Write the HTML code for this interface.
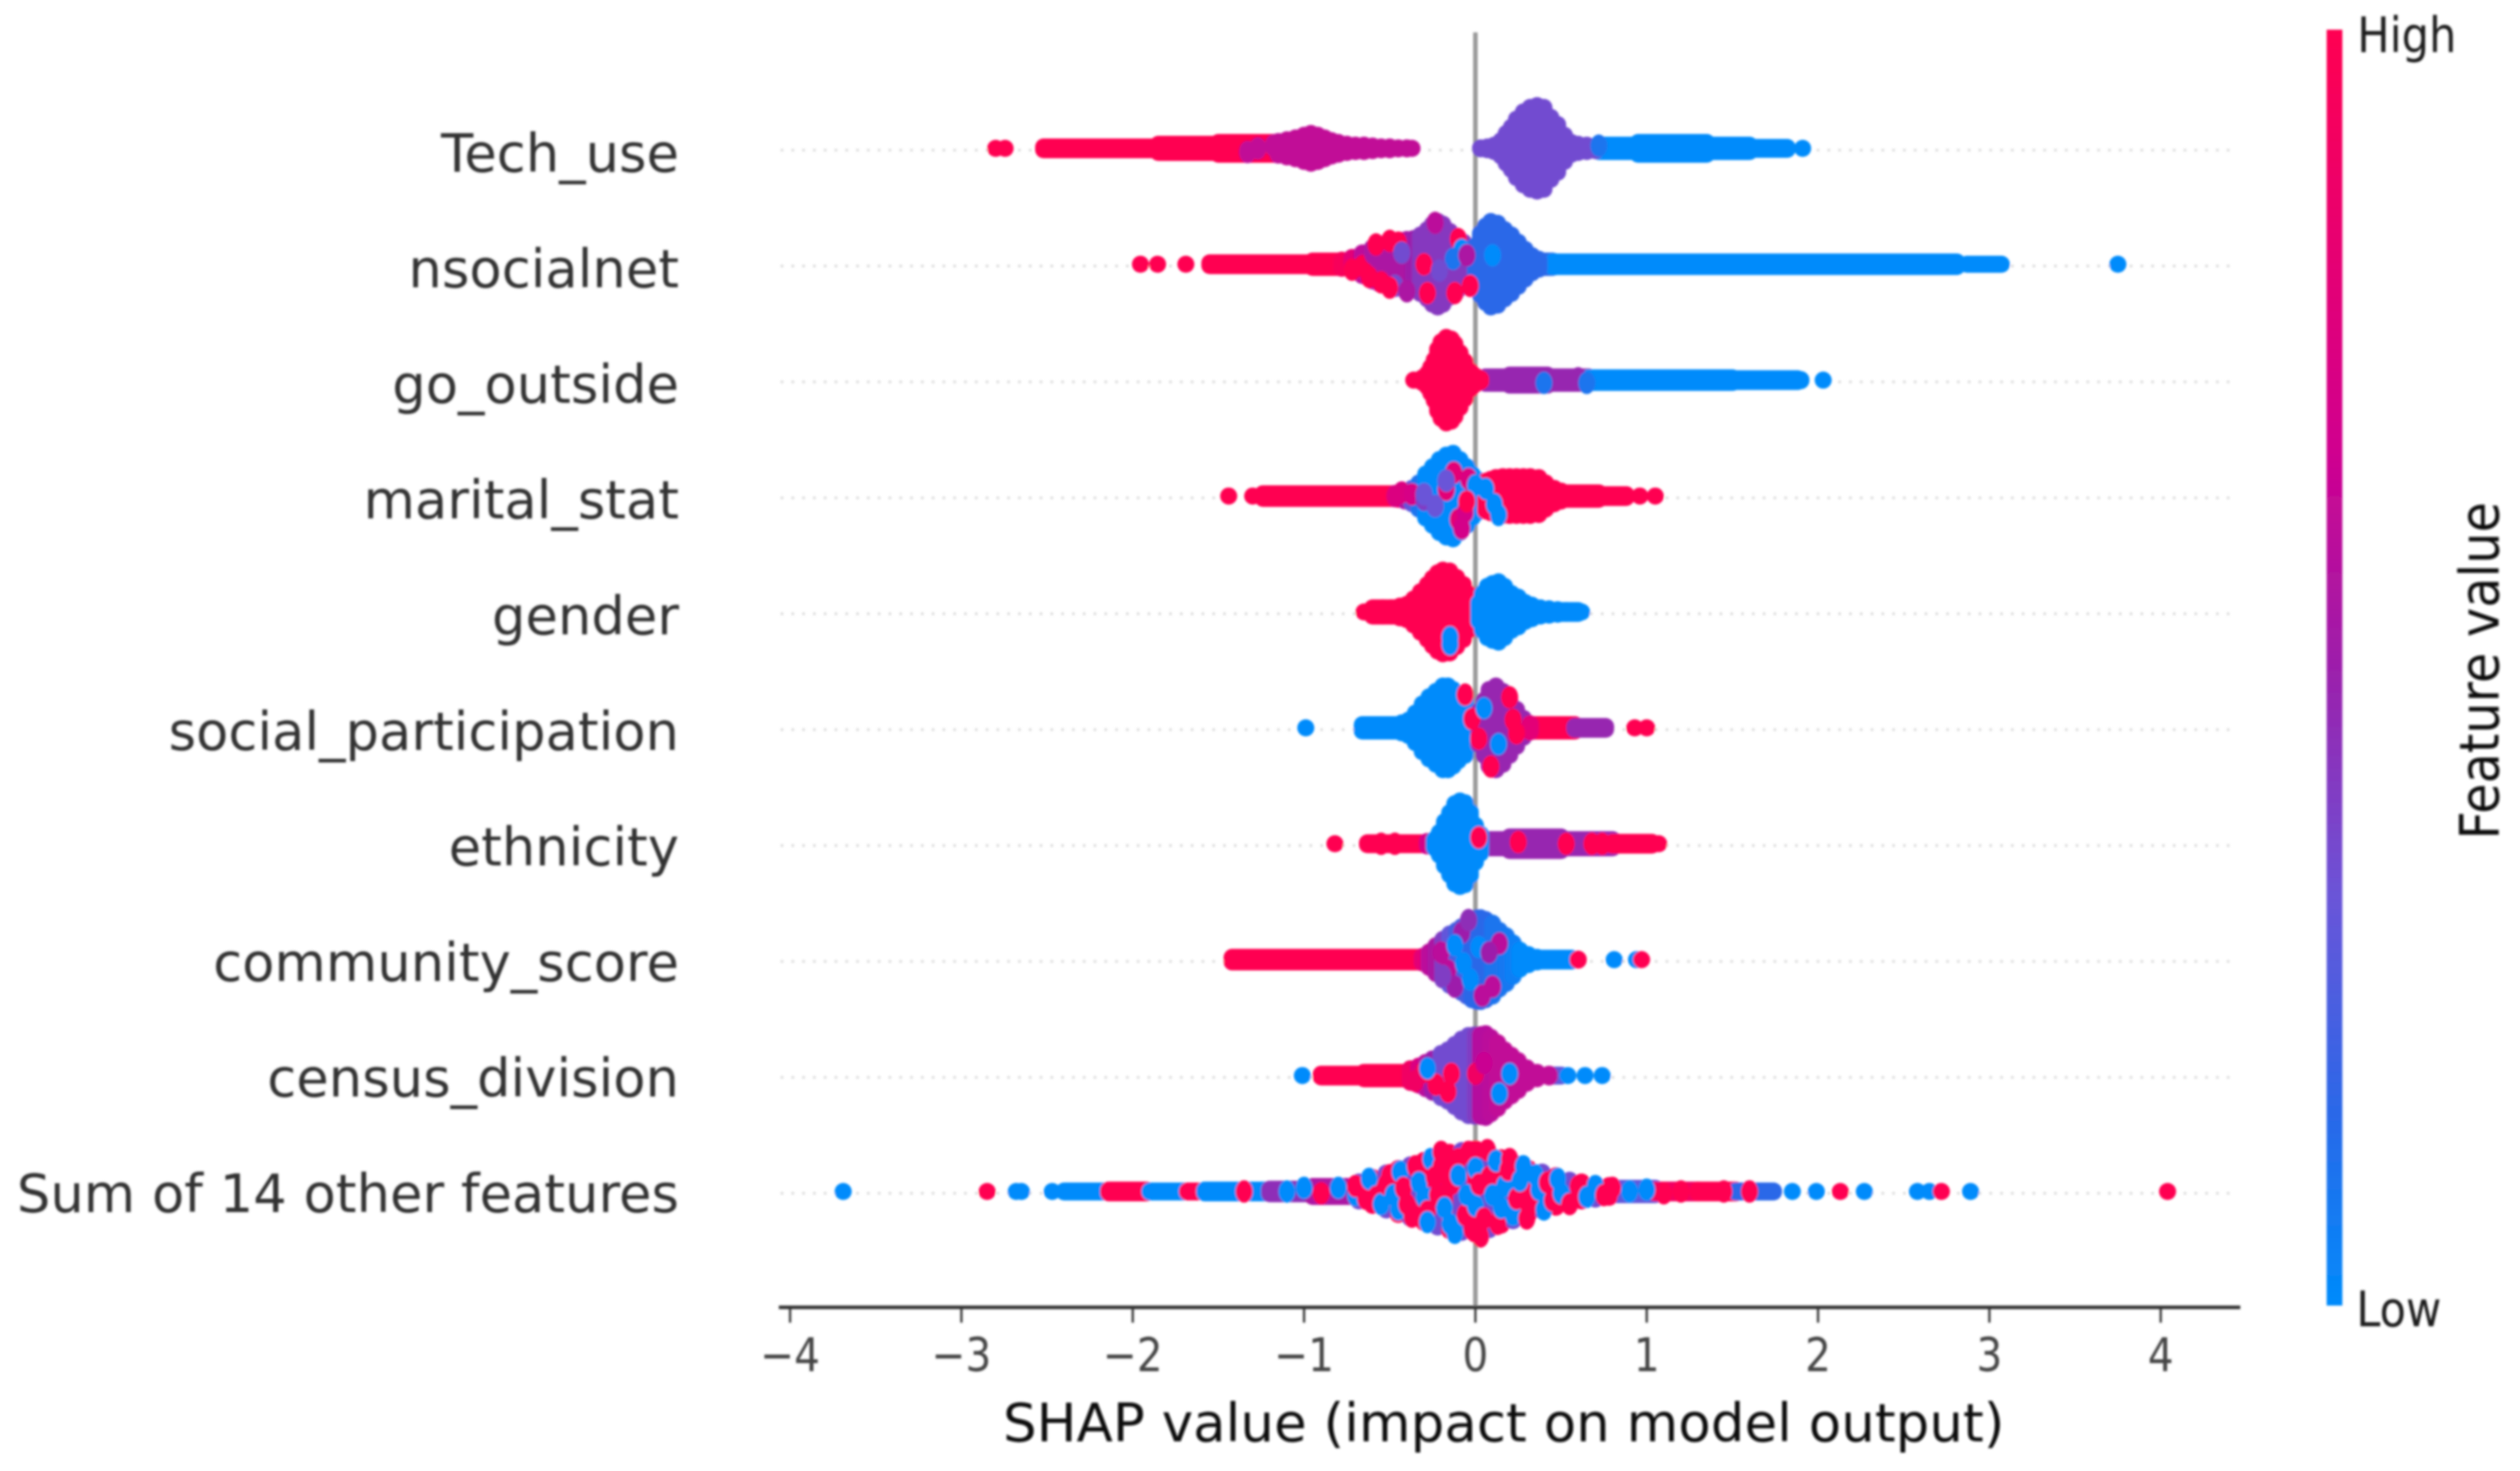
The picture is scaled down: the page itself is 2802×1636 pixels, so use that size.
<!DOCTYPE html>
<html lang="en">
<head>
<meta charset="utf-8">
<title>SHAP beeswarm summary</title>
<style>
html,body{margin:0;padding:0;background:#fff;width:2802px;height:1636px;overflow:hidden}
svg{display:block}
text{font-family:"DejaVu Sans","Liberation Sans",sans-serif}
</style>
</head>
<body>
<svg id="chart" xmlns="http://www.w3.org/2000/svg" width="2802" height="1636" viewBox="0 0 2802 1636">
  <defs>
    <filter id="soft" x="-2%" y="-2%" width="104%" height="104%"><feGaussianBlur stdDeviation="1.2"/></filter>
    <linearGradient id="barGradient" x1="0" y1="1" x2="0" y2="0">
      <stop offset="0" stop-color="#008bfb"/>
      <stop offset="0.15" stop-color="#2a68e8"/>
      <stop offset="0.32" stop-color="#6a55d8"/>
      <stop offset="0.495" stop-color="#9b20ac"/>
      <stop offset="0.67" stop-color="#d0008f"/>
      <stop offset="1" stop-color="#ff0051"/>
    </linearGradient>
  </defs>
  <g id="plot" filter="url(#soft)"></g>
</svg>
<script>
const featureNames = ["Tech_use","nsocialnet","go_outside","marital_stat","gender","social_participation","ethnicity","community_score","census_division","Sum of 14 other features"];
const xTicks = [-4,-3,-2,-1,0,1,2,3,4];
const xTickLabels = ["\u22124","\u22123","\u22122","\u22121","0","1","2","3","4"];

/* Each swarm:
   Shap/Depth/Value = SHAP value of a bin, stacked half-depth of the bin, mean feature value (0 low .. 1 high)
   TailFrom/TailTo/TailDepth/TailValue = dense runs of overlapping points along the row
   SpeckShap/SpeckDepth/SpeckValue = individually visible points */
const techUseShap  = [-2.80,-2.745,-1.15,-1.1,-1.05,-1.0,-0.96,-0.92,-0.88,-0.84,-0.8,-0.75,-0.7,-0.65,-0.6,-0.55,-0.5,-0.45,-0.4,-0.37,0.03,0.07,0.11,0.15,0.18,0.21,0.24,0.28,0.32,0.36,0.40,0.44,0.48,0.52,0.56,0.60,0.65,0.7,1.82,1.91];
const techUseDepth = [9.5,9.5,17,19,21,24,26,24,21,18,16,14,13,13,12,11,11,10,10,9.5,10,11,13,18,26,33,42,50,55,57,55,44,36,24,16,14,13,12,9.5,9.5];
const techUseValue = [1,1,0.62,0.62,0.62,0.62,0.62,0.62,0.62,0.62,0.62,0.62,0.62,0.62,0.62,0.62,0.62,0.62,0.62,0.62,0.35,0.35,0.35,0.35,0.35,0.35,0.35,0.35,0.35,0.35,0.35,0.35,0.35,0.35,0.35,0.35,0.35,0.35,0,0];
const techUseTailFrom  = [-2.52,-1.85,-1.5,0.72,0.95,1.35,1.6];
const techUseTailTo    = [-1.8,-1.5,-1.17,0.95,1.35,1.6,1.82];
const techUseTailDepth = [11,14,16,13,16,13,10.5];
const techUseTailValue = [1,1,1,0,0,0,0];
const techUseSpeckShap  = [-1.27,-1.33,-1.18,0.72];
const techUseSpeckDepth = [0,4,-3,-3];
const techUseSpeckValue = [0.62,0.62,0.62,0.1];

const nsocialnetShap  = [-1.955,-1.855,-1.69,-0.78,-0.72,-0.66,-0.6,-0.56,-0.52,-0.48,-0.44,-0.4,-0.36,-0.32,-0.28,-0.25,-0.22,-0.19,-0.15,-0.11,-0.07,-0.03,0.0,0.03,0.06,0.09,0.13,0.17,0.21,0.25,0.29,0.33,0.37,3.75];
const nsocialnetDepth = [9.5,9.5,9.5,14,17,22,28,31,33,35,36,37,38,42,48,54,57,54,46,40,34,24,30,44,52,57,55,48,42,34,26,19,15,9.5];
const nsocialnetValue = [1,1,1,0.95,0.8,0.6,0.55,0.55,0.55,0.55,0.55,0.55,0.5,0.42,0.42,0.42,0.42,0.42,0.42,0.42,0.42,0.42,0.15,0.15,0.15,0.15,0.15,0.15,0.15,0.15,0.15,0.15,0.15,0];
const nsocialnetTailFrom  = [-1.55,-0.95,0.36,0.45,2.87];
const nsocialnetTailTo    = [-0.95,-0.76,0.45,2.81,3.07];
const nsocialnetTailDepth = [11,13,13,12,9.5];
const nsocialnetTailValue = [1,1,0.15,0,0];
const nsocialnetSpeckShap  = [-0.72,-0.66,-0.62,-0.5,-0.45,-0.55,-0.3,-0.28,-0.1,-0.08,-0.13,-0.12,-0.43,-0.47,-0.21,-0.235,-0.6,-0.58,-0.5,-0.4,-0.05,-0.03,0.1];
const nsocialnetSpeckDepth = [6,2,14,-26,-24,20,0,32,-28,-16,-6,32,-13,24,7,-46,-12,-22,26,30,-10,24,-10];
const nsocialnetSpeckValue = [1,1,1,1,1,1,1,1,1,0,0.1,1,0.35,0.35,0.35,0.6,0.55,1,1,0.55,0.55,1,0];

const goOutsideShap  = [-0.36,-0.31,-0.28,-0.26,-0.24,-0.22,-0.2,-0.17,-0.14,-0.12,-0.09,-0.06,-0.03,0.0,0.03,1.9,2.03];
const goOutsideDepth = [9.5,12,17,24,32,44,52,57,55,50,40,30,20,14,11,10,9.5];
const goOutsideValue = [1,1,1,1,1,1,1,1,1,1,1,1,1,1,1,0,0];
const goOutsideTailFrom  = [0.06,0.2,0.42,0.66,1.5];
const goOutsideTailTo    = [0.2,0.42,0.66,1.5,1.88];
const goOutsideTailDepth = [13,15,13,12,11];
const goOutsideTailValue = [0.48,0.48,0.48,0,0];
const goOutsideSpeckShap  = [0.4,0.6,0.65];
const goOutsideSpeckDepth = [3,-2,3];
const goOutsideSpeckValue = [0.1,0.48,0.1];

const maritalShap  = [-1.44,-1.3,-0.45,-0.41,-0.37,-0.33,-0.29,-0.25,-0.21,-0.17,-0.13,-0.09,-0.05,-0.02,0.01,0.06,0.09,0.12,0.16,0.2,0.24,0.28,0.32,0.37,0.41,0.46,0.5,0.96,1.05];
const maritalDepth = [9.5,9.5,13,15,18,24,34,42,50,55,57,50,42,34,28,26,28,30,31,31,31,31,31,30,24,18,15,9.5,9.5];
const maritalValue = [1,1,1,0.55,0.3,0.1,0,0,0,0,0,0,0,0,0,1,1,1,1,1,1,1,1,1,1,1,1,1,1];
const maritalTailFrom  = [-1.24,0.5,0.72];
const maritalTailTo    = [-0.48,0.72,0.88];
const maritalTailDepth = [12,13,11];
const maritalTailValue = [1,1,1];
const maritalSpeckShap  = [-0.47,-0.43,-0.37,-0.3,-0.17,-0.126,-0.04,-0.17,-0.1,-0.06,-0.17,-0.235,-0.3,0.0,0.06,0.11,0.135,-0.08,-0.05];
const maritalSpeckDepth = [0,-4,-2,4,-17,-26,-19,-7,26,18,-17,11,-2,-12,-8,9,21,36,6];
const maritalSpeckValue = [0.75,0.75,0.72,0.4,0.32,0.8,0.75,0.8,0.8,0.7,0.32,0.32,0.32,0,0,0,0,0.7,1];

const genderShap  = [-0.65,-0.59,-0.54,-0.49,-0.44,-0.4,-0.36,-0.32,-0.28,-0.25,-0.22,-0.19,-0.15,-0.11,-0.07,-0.04,-0.01,0.02,0.04,0.07,0.1,0.135,0.17,0.21,0.25,0.29,0.33,0.38,0.43,0.48,0.53,0.57,0.62];
const genderDepth = [9.5,12,14,14,16,18,24,32,40,47,53,56,55,48,40,30,14,20,30,38,41,43,38,30,26,20,17,14,13,12,11,10,9.5];
const genderValue = [1,1,1,1,1,1,1,1,1,1,1,1,1,1,1,1,1,0,0,0,0,0,0,0,0,0,0,0,0,0,0,0,0];
const genderTailFrom  = [-0.6,0.33];
const genderTailTo    = [-0.4,0.6];
const genderTailDepth = [14,11];
const genderTailValue = [1,0];
const genderSpeckShap  = [-0.148,-0.148];
const genderSpeckDepth = [28,36];
const genderSpeckValue = [0,0];

const socialShap  = [-0.99,-0.66,-0.43,-0.39,-0.35,-0.31,-0.27,-0.23,-0.19,-0.16,-0.13,-0.1,-0.06,-0.03,0.02,0.05,0.08,0.12,0.16,0.2,0.24,0.28,0.32,0.93,1.0];
const socialDepth = [9.5,10,15,18,26,36,44,50,56,56,52,46,40,28,28,40,52,56,50,40,30,20,14,9.5,9.5];
const socialValue = [0,0,0,0,0,0,0,0,0,0,0,0,0,0,0.48,0.48,0.48,0.48,0.48,0.48,0.48,0.48,0.8,1,1];
const socialTailFrom  = [-0.66,0.33,0.58];
const socialTailTo    = [-0.43,0.58,0.76];
const socialTailDepth = [13,13,11];
const socialTailValue = [0,1,0.48];
const socialSpeckShap  = [0.2,0.22,-0.02,0.09,-0.06,0.05,0.135,0.02,0.24];
const socialSpeckDepth = [-34,-9,-10,43,-37,-22,18,12,6];
const socialSpeckValue = [1,1,1,1,1,0,0,1,1];

const ethnicityShap  = [-0.82,-0.28,-0.24,-0.21,-0.18,-0.15,-0.12,-0.09,-0.06,-0.03,0.0,0.03,1.07];
const ethnicityDepth = [9.5,12,14,22,34,44,54,57,55,45,30,20,9.5];
const ethnicityValue = [1,0.7,0,0,0,0,0,0,0,0,0,0,1];
const ethnicityTailFrom  = [-0.63,0.05,0.2,0.5,0.8];
const ethnicityTailTo    = [-0.28,0.2,0.5,0.8,1.03];
const ethnicityTailDepth = [10.5,14,17,14,11];
const ethnicityTailValue = [1,0.48,0.48,0.48,1];
const ethnicitySpeckShap  = [-0.47,-0.55,0.02,0.25,0.53,0.68,0.74];
const ethnicitySpeckDepth = [0,0,-7,-2,0,0,0];
const ethnicitySpeckValue = [1,1,1,1,1,1,1];

const communityShap  = [-0.31,-0.27,-0.23,-0.19,-0.15,-0.11,-0.08,-0.05,-0.02,0.01,0.03,0.06,0.1,0.14,0.18,0.22,0.26,0.31,0.36,0.6,0.81,0.94,0.97];
const communityDepth = [13,18,25,32,38,42,46,50,54,56,56,54,50,42,36,28,20,15,12,10,9.5,9.5,9.5];
const communityValue = [0.8,0.6,0.55,0.4,0.3,0.22,0.22,0.22,0.15,0.15,0.15,0.15,0.1,0.1,0.08,0.05,0,0,0,1,0,0,1];
const communityTailFrom  = [-1.42,0.33];
const communityTailTo    = [-0.33,0.56];
const communityTailDepth = [12,11];
const communityTailValue = [1,0];
const communitySpeckShap  = [-0.2,-0.16,-0.12,-0.08,-0.04,-0.03,0.04,0.1,0.14,0.02,-0.07,0.08,-0.19,-0.12];
const communitySpeckDepth = [-8,12,30,-30,-44,22,40,30,-18,-14,4,-8,18,-16];
const communitySpeckValue = [0.6,0.6,0.5,0.5,0.45,0,0.6,0.6,0.6,0,0,0.5,0.4,0];

const censusShap  = [-1.01,-0.38,-0.33,-0.29,-0.25,-0.2,-0.16,-0.12,-0.08,-0.04,0.0,0.03,0.06,0.09,0.13,0.17,0.21,0.25,0.3,0.36,0.43,0.54,0.64,0.74];
const censusDepth = [9.5,17,20,24,28,34,38,44,50,54,55,55,56,52,46,38,32,26,18,13,11,9.5,9.5,9.5];
const censusValue = [0,0.9,0.75,0.6,0.5,0.35,0.35,0.35,0.35,0.35,0.4,0.58,0.58,0.6,0.62,0.62,0.62,0.62,0.62,0.62,0.62,0,0,0];
const censusTailFrom  = [-0.9,-0.65,0.43];
const censusTailTo    = [-0.65,-0.4,0.5];
const censusTailDepth = [11,13,10];
const censusTailValue = [1,1,0.3];
const censusSpeckShap  = [-0.23,-0.14,-0.16,-0.3,-0.35,0.2,0.14,0.0,0.05,-0.28,0.3];
const censusSpeckDepth = [10,-2,18,-4,6,-2,20,-2,-14,-8,4];
const censusSpeckValue = [1,1,1,1,0.9,0,0,0.9,0.65,0,0.62];

const sumShap  = [-3.69,-2.85,-2.68,-2.65,-2.47,-0.68,-0.6,-0.52,-0.45,-0.38,-0.3,-0.22,-0.15,-0.08,0.0,0.08,0.15,0.22,0.31,0.39,0.47,0.55,0.62,0.7,0.78,1.85,1.99,2.13,2.27,2.58,2.65,2.72,2.89,4.04];
const sumDepth = [9.5,9.5,9.5,9.5,9.5,20,25,30,35,39,44,49,53,55,57,52,47,42,35,31,27,22,20,18,16,9.5,9.5,9.5,9.5,9.5,9.5,9.5,9.5,9.5];
const sumValue = [0,1,0,0,0,0.35,1,0.35,1,0.35,1,0.35,1,0.35,1,0.35,1,0.35,1,0.35,1,0.35,1,0.35,1,0,0,1,0,0,0,1,0,1];
const sumTailFrom  = [-2.4,-2.14,-1.9,-1.68,-1.58,-1.2,-0.95,0.8,1.05,1.3,1.52];
const sumTailTo    = [-2.15,-1.92,-1.7,-1.62,-1.2,-0.95,-0.68,1.05,1.3,1.52,1.74];
const sumTailDepth = [10,11,10,10,11,12,15,13,11,11,10];
const sumTailValue = [0,1,0,1,0,0.45,0.55,0.3,0.9,1,0.15];
const sumSpeckShap  = [-1.35,-1.1,-1.0,-0.9,-0.8,-0.7,-0.7,-0.64,-0.62,-0.58,-0.55,-0.52,-0.5,-0.48,-0.45,-0.44,-0.42,-0.4,-0.37,-0.35,-0.33,-0.3,-0.28,-0.28,-0.26,-0.24,-0.22,-0.2,-0.2,-0.18,-0.15,-0.14,-0.12,-0.1,-0.1,-0.06,-0.05,-0.04,-0.02,0,0,0.02,0.03,0.05,0.07,0.08,0.1,0.12,0.13,0.15,0.17,0.19,0.2,0.22,0.24,0.26,0.28,0.3,0.33,0.35,0.37,0.4,0.42,0.45,0.48,0.5,0.55,0.6,0.65,0.7,0.75,0.8,0.9,1.0,1.1,1.2,1.45,1.6];
const sumSpeckDepth = [0,0,-4,2,-4,4,-6,8,-14,6,14,-8,-18,4,20,-22,-4,14,28,-28,-10,6,22,34,-36,-16,4,-44,-28,18,36,-8,46,-36,-18,26,4,-44,42,-26,16,-8,50,30,-46,-16,4,-34,36,18,-6,-24,-36,26,8,-12,-28,30,14,-18,-2,20,-10,10,-14,2,14,-6,6,-6,4,-4,0,-2,2,0,0,0];
const sumSpeckValue = [1,0,0,1,0,0,1,1,0,1,0,1,1,0,0,0,1,1,1,1,0,0,1,0,0,1,1,1,1,0,0,1,0,1,0,1,0,1,1,0,0,1,1,1,1,1,0,0,1,0,0,1,1,0,1,0,0,1,1,0,0,0,1,1,0,0,1,1,0,0,1,1,0,0,1,1,1,1];

const swarms = [
  {key:"tech-use",shap:techUseShap,depth:techUseDepth,value:techUseValue,tailFrom:techUseTailFrom,tailTo:techUseTailTo,tailDepth:techUseTailDepth,tailValue:techUseTailValue,speckShap:techUseSpeckShap,speckDepth:techUseSpeckDepth,speckValue:techUseSpeckValue},
  {key:"nsocialnet",shap:nsocialnetShap,depth:nsocialnetDepth,value:nsocialnetValue,tailFrom:nsocialnetTailFrom,tailTo:nsocialnetTailTo,tailDepth:nsocialnetTailDepth,tailValue:nsocialnetTailValue,speckShap:nsocialnetSpeckShap,speckDepth:nsocialnetSpeckDepth,speckValue:nsocialnetSpeckValue},
  {key:"go-outside",shap:goOutsideShap,depth:goOutsideDepth,value:goOutsideValue,tailFrom:goOutsideTailFrom,tailTo:goOutsideTailTo,tailDepth:goOutsideTailDepth,tailValue:goOutsideTailValue,speckShap:goOutsideSpeckShap,speckDepth:goOutsideSpeckDepth,speckValue:goOutsideSpeckValue},
  {key:"marital-stat",shap:maritalShap,depth:maritalDepth,value:maritalValue,tailFrom:maritalTailFrom,tailTo:maritalTailTo,tailDepth:maritalTailDepth,tailValue:maritalTailValue,speckShap:maritalSpeckShap,speckDepth:maritalSpeckDepth,speckValue:maritalSpeckValue},
  {key:"gender",shap:genderShap,depth:genderDepth,value:genderValue,tailFrom:genderTailFrom,tailTo:genderTailTo,tailDepth:genderTailDepth,tailValue:genderTailValue,speckShap:genderSpeckShap,speckDepth:genderSpeckDepth,speckValue:genderSpeckValue},
  {key:"social-participation",shap:socialShap,depth:socialDepth,value:socialValue,tailFrom:socialTailFrom,tailTo:socialTailTo,tailDepth:socialTailDepth,tailValue:socialTailValue,speckShap:socialSpeckShap,speckDepth:socialSpeckDepth,speckValue:socialSpeckValue},
  {key:"ethnicity",shap:ethnicityShap,depth:ethnicityDepth,value:ethnicityValue,tailFrom:ethnicityTailFrom,tailTo:ethnicityTailTo,tailDepth:ethnicityTailDepth,tailValue:ethnicityTailValue,speckShap:ethnicitySpeckShap,speckDepth:ethnicitySpeckDepth,speckValue:ethnicitySpeckValue},
  {key:"community-score",shap:communityShap,depth:communityDepth,value:communityValue,tailFrom:communityTailFrom,tailTo:communityTailTo,tailDepth:communityTailDepth,tailValue:communityTailValue,speckShap:communitySpeckShap,speckDepth:communitySpeckDepth,speckValue:communitySpeckValue},
  {key:"census-division",shap:censusShap,depth:censusDepth,value:censusValue,tailFrom:censusTailFrom,tailTo:censusTailTo,tailDepth:censusTailDepth,tailValue:censusTailValue,speckShap:censusSpeckShap,speckDepth:censusSpeckDepth,speckValue:censusSpeckValue},
  {key:"sum-other",shap:sumShap,depth:sumDepth,value:sumValue,tailFrom:sumTailFrom,tailTo:sumTailTo,tailDepth:sumTailDepth,tailValue:sumTailValue,speckShap:sumSpeckShap,speckDepth:sumSpeckDepth,speckValue:sumSpeckValue}
];

const NS = "http://www.w3.org/2000/svg";
const plot = document.getElementById("plot");
const DOT = 19;
function xScale(v){ return 1640.5 + 190.5 * v; }
function rowY(i){ return 165 + 128.9 * i; }
const colorStops = [[0,[0,139,251]],[0.15,[42,104,232]],[0.32,[106,85,216]],[0.495,[155,32,172]],[0.67,[208,0,143]],[1,[255,0,81]]];
function colorOf(t){
  for(let k=1;k<colorStops.length;k++){
    if(t<=colorStops[k][0]){
      const a=colorStops[k-1], b=colorStops[k], f=(t-a[0])/(b[0]-a[0]);
      return "rgb("+a[1].map((c,j)=>Math.round(c+(b[1][j]-c)*f)).join(",")+")";
    }
  }
  return "rgb(255,0,81)";
}
function svgEl(tag, attrs, parent){
  const el=document.createElementNS(NS,tag);
  for(const k in attrs) el.setAttribute(k,attrs[k]);
  (parent||plot).appendChild(el);
  return el;
}

/* row guide lines */
featureNames.forEach(function(name,i){
  const guide=svgEl("line",{x1:868,x2:2482,y1:rowY(i)+2,y2:rowY(i)+2,stroke:"#dcdcdc","stroke-width":3,"stroke-dasharray":"3 9"});
  
  
});

/* zero line */
const zeroLine=svgEl("line",{x1:xScale(0),x2:xScale(0),y1:36,y2:1454,stroke:"#999999","stroke-width":5});



/* swarms */
swarms.forEach(function(s,i){
  const g=svgEl("g",{});
  
  
  s.tailFrom.forEach(function(v,j){
    const x0=xScale(v)-DOT/2, x1=xScale(s.tailTo[j])+DOT/2, h=s.tailDepth[j];
    const run=svgEl("rect",{x:x0,y:rowY(i)-h,width:x1-x0,height:2*h,rx:DOT/2,ry:DOT/2,fill:colorOf(s.tailValue[j])},g);
    
    
  });
  s.shap.forEach(function(v,j){
    const h=Math.max(s.depth[j],DOT/2);
    const bin=svgEl("rect",{x:xScale(v)-DOT/2,y:rowY(i)-h,width:DOT,height:2*h,rx:DOT/2,ry:DOT/2,fill:colorOf(s.value[j])},g);
    
    
  });
  s.speckShap.forEach(function(v,j){
    const dot=svgEl("ellipse",{cx:xScale(v),cy:rowY(i)+s.speckDepth[j],rx:DOT/2,ry:DOT/2+3,fill:colorOf(s.speckValue[j])},g);
    
    
  });
});

/* feature labels */
featureNames.forEach(function(name,i){
  const t=svgEl("text",{x:755,y:rowY(i)+23+3*(1-i/9),"text-anchor":"end","font-size":58.7,fill:"#333333"});
  t.textContent=name;
  
  
});

/* x axis */
const axisLine=svgEl("line",{x1:866,x2:2491,y1:1454,y2:1454,stroke:"#333333","stroke-width":4});


xTicks.forEach(function(v,i){
  const tick=svgEl("line",{x1:xScale(v),x2:xScale(v),y1:1454,y2:1471,stroke:"#333333","stroke-width":2.5});
  
  
  const lab=svgEl("text",{transform:"translate("+xScale(v)+",1525) scale(0.87,1)","text-anchor":"middle","font-size":52,fill:"#444444"});
  lab.textContent=xTickLabels[i];
  
  
});
const xTitle=svgEl("text",{x:1672,y:1603,"text-anchor":"middle","font-size":59,fill:"#111111"});
xTitle.textContent="SHAP value (impact on model output)";



/* colorbar */
const colorbar=svgEl("rect",{x:2587,y:33,width:17.5,height:1419,fill:"url(#barGradient)"});


const highLabel=svgEl("text",{transform:"translate(2621,58) scale(1,1.14)","font-size":48,fill:"#1a1a1a"});
highLabel.textContent="High";


const lowLabel=svgEl("text",{transform:"translate(2620,1475) scale(1,1.14)","font-size":48,fill:"#1a1a1a"});
lowLabel.textContent="Low";


const barTitle=svgEl("text",{transform:"translate(2778,746) rotate(-90) scale(1,1.1)","text-anchor":"middle","font-size":55,fill:"#111111"});
barTitle.textContent="Feature value";


</script>
</body>
</html>
